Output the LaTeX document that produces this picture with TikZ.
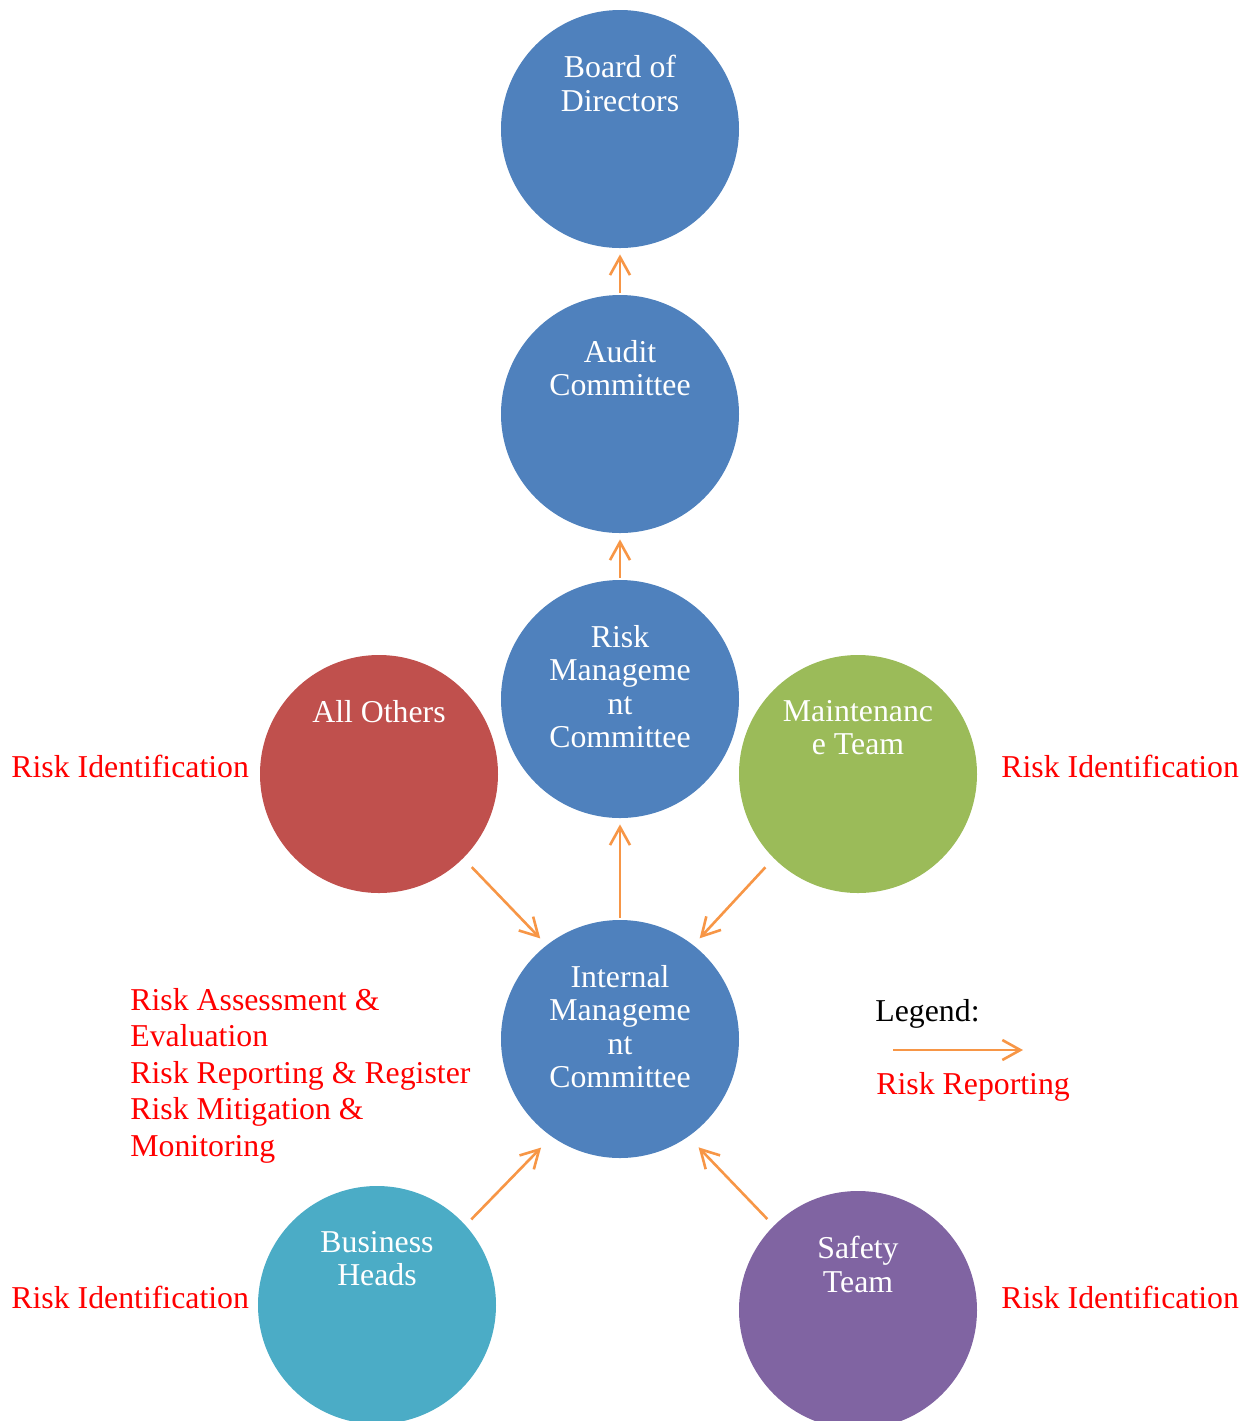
\documentclass[tikz,border=0pt]{standalone}
\usepackage{fontspec}
\setmainfont{Liberation Serif}
\usetikzlibrary{arrows.meta,positioning,calc}

\definecolor{unitblue}{HTML}{4F81BD}
\definecolor{unitred}{HTML}{C0504D}
\definecolor{unitgreen}{HTML}{9BBB59}
\definecolor{unitteal}{HTML}{4BACC6}
\definecolor{unitpurple}{HTML}{8064A2}
\definecolor{reportorange}{HTML}{F79646}

\tikzset{
  unit/.style={circle, minimum size=119pt, inner sep=0pt},
  unittext/.style={anchor=north, align=center, text=white, inner sep=0pt,
    font=\fontsize{15.9}{16.75}\selectfont},
  risknote/.style={text=red, inner sep=0pt, font=\fontsize{15.9}{18.25}\selectfont},
  report/.style={-{Straight Barb[length=9pt,width=10pt]}, line width=1.3pt, reportorange}
}

\begin{document}
\begin{tikzpicture}[x=0.5pt,y=-0.5pt]
      \useasboundingbox (0,0) rectangle (1245,1421);

      % Committees (blue)
      \node[unit, fill=unitblue] (bod) at (620,129) {};
      \node[unit, fill=unitblue] (acm) at (620,414) {};
      \node[unit, fill=unitblue] (rmc) at (620,699) {};
      \node[unit, fill=unitblue] (imc) at (620,1039) {};

      % Teams
      \node[unit, fill=unitred] (ao) at (379,774) {};
      \node[unit, fill=unitgreen] (mt) at (858,774) {};
      \node[unit, fill=unitteal] (bh) at (377,1305) {};
      \node[unit, fill=unitpurple] (st) at (858,1310) {};

      % Circle texts
      \node[unittext] (bod-t) at ($(bod.center)+(0,-74)$) {Board of\\Directors};
      \node[unittext] (acm-t) at ($(acm.center)+(0,-74)$) {Audit\\Committee};
      \node[unittext] (rmc-t) at ($(rmc.center)+(0,-74)$) {Risk\\Manageme\\nt\\Committee};
      \node[unittext] (imc-t) at ($(imc.center)+(0,-74)$) {Internal\\Manageme\\nt\\Committee};
      \node[unittext] (ao-t) at ($(ao.center)+(0,-74)$) {All Others};
      \node[unittext] (mt-t) at ($(mt.center)+(0,-74)$) {Maintenanc\\e Team};
      \node[unittext] (bh-t) at ($(bh.center)+(0,-74)$) {Business\\Heads};
      \node[unittext] (st-t) at ($(st.center)+(0,-74)$) {Safety\\Team};

      % Reporting (upwards)
      \draw[report, shorten <=1pt, shorten >=3pt] (imc.north) -- (rmc.south);
      \draw[report, shorten <=1pt, shorten >=3pt] (rmc.north) -- (acm.south);
      \draw[report, shorten <=1pt, shorten >=3pt] (acm.north) -- (bod.south);

      % Reporting (into internal committee)
      \draw[report, shorten <=6pt, shorten >=4.5pt] (ao.-45) -- (imc.128);
      \draw[report, shorten <=6pt, shorten >=4.5pt] (mt.-135) -- (imc.52);
      \draw[report, shorten <=4pt, shorten >=7.5pt] (bh.42) -- (imc.-125);
      \draw[report, shorten <=4.5pt, shorten >=7.3pt] (st.135) -- (imc.-55);

      % Risk identification labels
      \foreach \x/\y [count=\i] in {11/777, 1001/777, 11/1308, 1001/1308}
        \node[risknote, anchor=base west] (rid\i) at (\x,\y) {Risk Identification};

      % Tasks of internal committee
      \node[risknote, anchor=north west, align=left] (tasks) at (130,988)
        {Risk Assessment \&\\Evaluation\\Risk Reporting \& Register\\Risk Mitigation \&\\Monitoring};

      % Legend
      \node[risknote, text=black, anchor=base west] (leg) at (875,1021) {Legend:};
      \coordinate (leg-a) at (893,1050);
      \coordinate (leg-b) at (1023,1050);
      \draw[report] (leg-a) -- (leg-b);
      \node[risknote, anchor=base west] (leg-t) at (876,1094) {Risk Reporting};
\end{tikzpicture}
\end{document}
